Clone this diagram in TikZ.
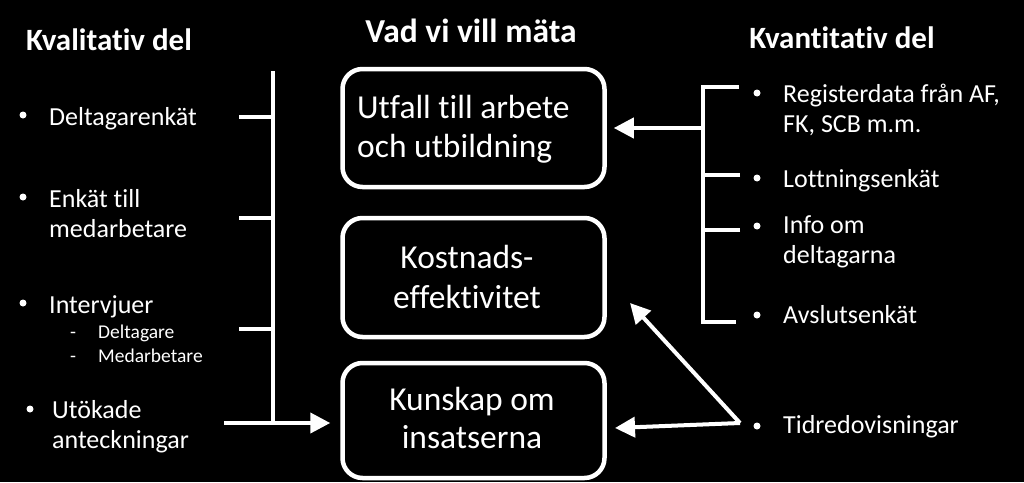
\documentclass[tikz,border=0pt]{standalone}
\usepackage{fontspec}
\setmainfont{Carlito}[RawFeature={-liga}]
\usetikzlibrary{arrows.meta}
\begin{document}
\begin{tikzpicture}[x=1pt,y=-1pt,
  every node/.style={text=white, inner sep=0pt},
  wline/.style={draw=white, line width=4pt},
  arr/.style={wline, -{Triangle[length=20pt,width=20pt]}},
  boxst/.style={draw=white, line width=4.5pt, rounded corners=20pt, fill=black, minimum width=262pt},
  head/.style={font=\fontsize{31}{36}\selectfont\bfseries, anchor=base},
  body/.style={font=\fontsize{26}{30}\selectfont, anchor=base west},
  small/.style={font=\fontsize{19.5}{23}\selectfont, anchor=base west},
  boxtxt/.style={font=\fontsize{33.5}{39}\selectfont, anchor=base},
  bul/.style={circle, fill=white, minimum size=7pt}
]
\fill[black] (0,0) rectangle (1024,482);
\useasboundingbox (0,0) rectangle (1024,482);

% headings
\node[head] (hl) at (109,50) {Kvalitativ del};
\node[head, font=\fontsize{33.5}{38}\selectfont\bfseries] (hm) at (471,42) {Vad vi vill mäta};
\node[head] (hr) at (842,48) {Kvantitativ del};

% boxes
\node[boxst, minimum height=118pt] (b1) at (473.5,128) {};
\node[boxst, minimum height=119pt] (b2) at (473.5,277.5) {};
\node[boxst, minimum height=115pt] (b3) at (473.5,420.5) {};

\node[boxtxt, anchor=base west] (b1a) at (357,118) {Utfall till arbete};
\node[boxtxt, anchor=base west] (b1b) at (357,157) {och utbildning};
\node[boxtxt] (b2a) at (467,268) {Kostnads-};
\node[boxtxt] (b2b) at (467,308) {effektivitet};
\node[boxtxt] (b3a) at (472,410) {Kunskap om};
\node[boxtxt] (b3b) at (472,448) {insatserna};

% left items
\node[bul] (lb1) at (23,115) {};
\node[body] (l1) at (49,125) {Deltagarenkät};
\node[bul] (lb2) at (23,197) {};
\node[body] (l2a) at (49,207) {Enkät till};
\node[body] (l2b) at (49,237) {medarbetare};
\node[bul] (lb3) at (23,303) {};
\node[body] (l3) at (49,313) {Intervjuer};
\node[small] (l3d1) at (70,338) {-};
\node[small] (l3a) at (98,338) {Deltagare};
\node[small] (l3d2) at (70,362) {-};
\node[small] (l3b) at (98,362) {Medarbetare};
\node[bul] (lb4) at (30,409) {};
\node[body] (l4a) at (52,418) {Utökade};
\node[body] (l4b) at (52,448) {anteckningar};

% left bracket
\coordinate (lt) at (273,71);
\coordinate (lbm) at (273,423);
\coordinate (lt1) at (239,117);
\coordinate (lt2) at (239,218);
\coordinate (lt3) at (239,329);
\coordinate (la) at (224,423);
\draw[wline] (lt) -- (lbm);
\draw[wline] (lt1) -- (lt1 -| lt);
\draw[wline] (lt2) -- (lt2 -| lt);
\draw[wline] (lt3) -- (lt3 -| lt);
\draw[arr, shorten >=10pt] (la) -- (la -| b3.west);

% right items
\node[bul] (rb1) at (757,93) {};
\node[body] (r1a) at (783,102) {Registerdata från AF,};
\node[body] (r1b) at (783,132) {FK, SCB m.m.};
\node[bul] (rb2) at (757,178) {};
\node[body] (r2) at (783,187) {Lottningsenkät};
\node[bul] (rb3) at (757,226) {};
\node[body] (r3a) at (783,233) {Info om};
\node[body] (r3b) at (783,263) {deltagarna};
\node[bul] (rb4) at (757,315) {};
\node[body] (r4) at (783,323) {Avslutsenkät};
\node[bul] (rb5) at (757,426) {};
\node[body] (r5) at (783,433) {Tidredovisningar};

% right bracket
\coordinate (rt) at (703,87);
\coordinate (rbm) at (703,322);
\coordinate (rt1) at (739,87);
\coordinate (rt2) at (740,175);
\coordinate (rt3) at (740,230);
\coordinate (rt4) at (736,322);
\coordinate (ra) at (703,128);
\draw[wline] (rt1) -- (rt) -- (rbm) -- (rt4);
\draw[wline] (rt2) -- (rt2 -| rt);
\draw[wline] (rt3) -- (rt3 -| rt);
\draw[arr, shorten >=7pt] (ra) -- (ra -| b1.east);

% Tidredovisningar arrows
\coordinate (tp) at (740,423);
\coordinate (t2) at (630,303);
\coordinate (t3) at (615,428);
\draw[arr] (tp) -- (t2);
\draw[arr] (tp) -- (t3);
\end{tikzpicture}
\end{document}
